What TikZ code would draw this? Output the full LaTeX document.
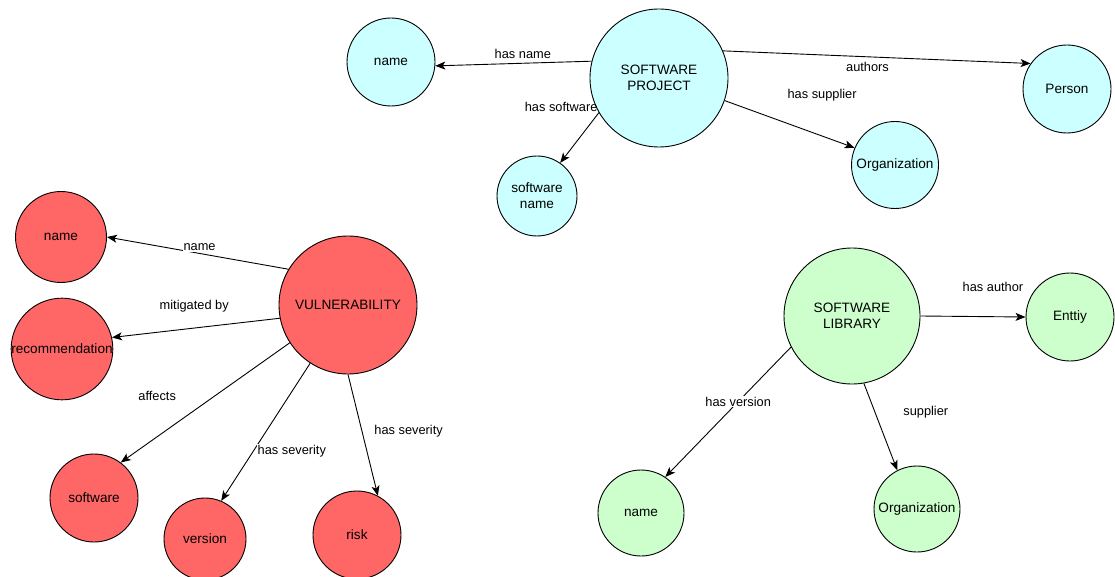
\documentclass[tikz,border=0pt]{standalone}
\usepackage{fontspec}
\setmainfont{Liberation Sans}
\usetikzlibrary{arrows.meta, positioning}
\definecolor{projblue}{HTML}{CCFFFF}
\definecolor{vulnred}{HTML}{FF6666}
\definecolor{libgreen}{HTML}{CCFFCC}
\tikzstyle{arrow} = [line width=0.9pt, -{Stealth[length=10pt,width=8pt,inset=2.5pt]}]
\tikzstyle{edgelabel} = [font=\fontsize{12.8}{15}\selectfont, inner sep=1pt, fill=white]

\begin{document}
\begin{tikzpicture}[x=1pt, y=-1pt]

\tikzstyle{entity} = [circle, draw, line width=0.9pt, align=center, inner sep=0pt, font=\fontsize{13.6}{16}\selectfont, minimum size=88pt]
\tikzstyle{projectnode} = [entity, fill=projblue]
\tikzstyle{vulnnode} = [entity, fill=vulnred]
\tikzstyle{librarynode} = [entity, fill=libgreen]
\tikzstyle{hubnode} = [minimum size=138pt]

\fill[white] (0,0) rectangle (1115,577);
\useasboundingbox (0,0) rectangle (1115,577);

% Nodes
\node (project) [projectnode, hubnode] at (659,78) {SOFTWARE\\PROJECT};
\node (projname) [projectnode] at (391,62) {name};
\node (swname) [projectnode, minimum size=80pt] at (537,196) {software\\name};
\node (projorg) [projectnode, minimum size=87pt] at (895,165) {Organization};
\node (person) [projectnode] at (1067,89) {Person};

\node (vuln) [vulnnode, hubnode] at (348,305) {VULNERABILITY};
\node (vulnname) [vulnnode, minimum size=91pt] at (61,237) {name};
\node (recommend) [vulnnode, minimum size=91pt] at (62,349) {recommendation};
\node (software) [vulnnode] at (94,498) {software};
\node (version) [vulnnode, minimum size=82pt] at (205,539) {version};
\node (risk) [vulnnode] at (357,535) {risk};

\node (library) [librarynode, minimum size=136pt] at (852,316) {SOFTWARE\\LIBRARY};
\node (entity) [librarynode] at (1070,317) {Enttiy};
\node (libname) [librarynode, minimum size=86pt] at (641,513) {name};
\node (liborg) [librarynode, minimum size=86pt] at (917,509) {Organization};

% Arrows
\draw [arrow] (project.166) -- node[edgelabel, pos=.44, above=3pt] {has name} (projname.355);
\draw [arrow] (project.210) -- node[edgelabel, pos=0, anchor=south east, fill=none] {has software} (swname.55);
\draw [arrow] (project.23) -- node[edgelabel, pos=.47, below=4pt] {authors} (person.145);
\draw [arrow] (project.341) -- node[edgelabel, pos=.75, above=33pt] {has supplier} (projorg.157);

\draw [arrow] (vuln.149) -- node[edgelabel, pos=.49, above=1pt] {name} (vulnname.0);
\draw [arrow] (vuln.191) -- node[edgelabel, pos=.51, above=14pt] {mitigated by} (recommend.13);
\draw [arrow] (vuln.213) -- node[edgelabel, pos=.44, left=38pt] {affects} (software.53);
\draw [arrow] (vuln.237) -- node[edgelabel, pos=.64, right=3pt] {has severity} (version.67);
\draw [arrow] (vuln.270) -- node[edgelabel, pos=.47, right=11pt] {has severity} (risk.62);

\draw [arrow] (library.0) -- node[edgelabel, pos=.69, above=24pt] {has author} (entity.180);
\draw [arrow] (library.207) -- node[edgelabel, pos=.42] {has version} (libname.56);
\draw [arrow] (library.280) -- node[edgelabel, pos=.33, right=27pt] {supplier} (liborg.117);

\end{tikzpicture}
\end{document}
